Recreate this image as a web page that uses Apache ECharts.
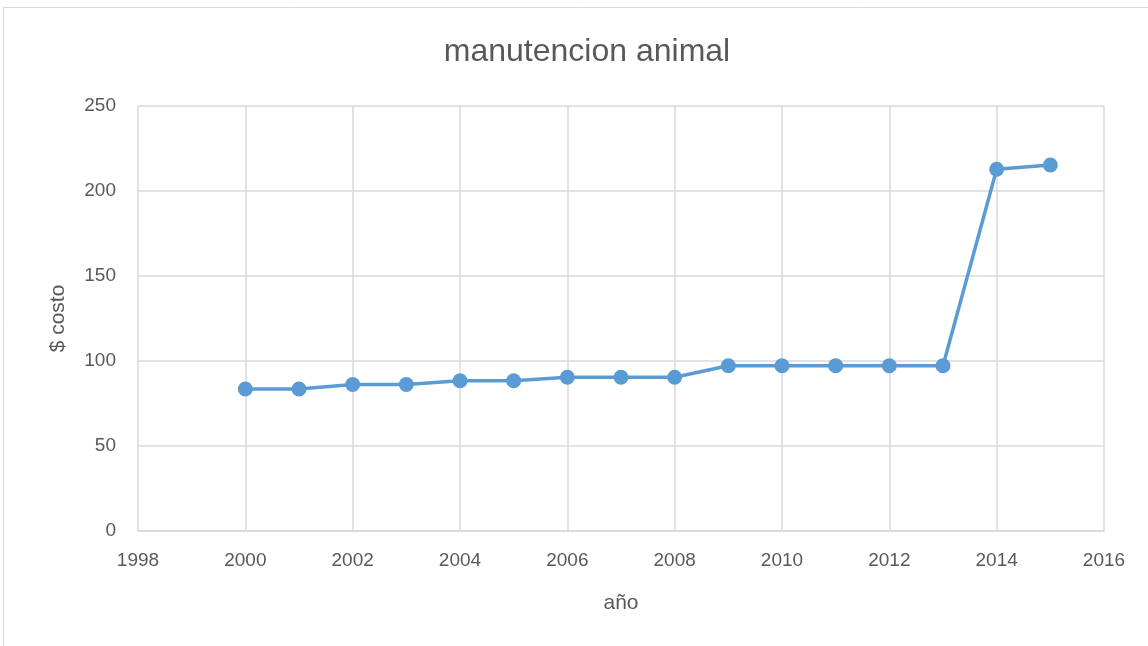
<!DOCTYPE html>
<html>
<head>
<meta charset="utf-8">
<script src="https://cdn.jsdelivr.net/npm/echarts@6/dist/echarts.min.js"></script>
<style>
    html, body { margin: 0; padding: 0; background: #fff; }
    #chart { width: 1148px; height: 646px; }
</style>
</head>
<body>
<div id="chart"></div>
<script>
// 数据
var years = [2000, 2001, 2002, 2003, 2004, 2005, 2006, 2007, 2008, 2009, 2010, 2011, 2012, 2013, 2014, 2015];
var costs = [83.5, 83.5, 86.2, 86.2, 88.4, 88.4, 90.4, 90.4, 90.4, 97.2, 97.2, 97.2, 97.2, 97.2, 212.8, 215.3];

var font = '"Liberation Sans", sans-serif';
var textColor = '#595959';
var gridColor = '#d9d9d9';

var chart = echarts.init(document.getElementById('chart'));

var points = [];
for (var i = 0; i < years.length; i++) {
    points.push([years[i], costs[i]]);
}

var option = {
    backgroundColor: '#fff',
    animation: false,
    graphic: [{
        type: 'rect',
        shape: {x: 3.5, y: 7.5, width: 1160, height: 660},
        style: {fill: 'none', stroke: '#d9d9d9', lineWidth: 1}
    }],
    title: {
        text: 'manutencion animal',
        left: 582,
        top: 31,
        textAlign: 'center',
        textStyle: {
            fontFamily: font,
            fontSize: 32,
            fontWeight: 'normal',
            color: textColor
        }
    },
    grid: {
        left: 138,
        right: 44,
        top: 106,
        bottom: 115
    },
    xAxis: {
        type: 'value',
        min: 1998,
        max: 2016,
        interval: 2,
        name: 'año',
        nameLocation: 'middle',
        nameGap: 62,
        nameTextStyle: {fontFamily: font, fontSize: 21, color: textColor},
        axisLine: {show: true, lineStyle: {color: gridColor, width: 1.5}},
        axisTick: {show: false},
        axisLabel: {
            fontFamily: font,
            fontSize: 19,
            color: textColor,
            margin: 20,
            formatter: function (v) { return String(v); }
        },
        splitLine: {show: true, lineStyle: {color: gridColor, width: 1.5}}
    },
    yAxis: {
        type: 'value',
        min: 0,
        max: 250,
        interval: 50,
        name: '$ costo',
        nameLocation: 'middle',
        nameGap: 69,
        nameRotate: 90,
        nameTextStyle: {fontFamily: font, fontSize: 21, color: textColor},
        axisLine: {show: false},
        axisTick: {show: false},
        axisLabel: {
            fontFamily: font,
            fontSize: 19,
            color: textColor,
            margin: 22
        },
        splitLine: {show: true, lineStyle: {color: gridColor, width: 1.5}}
    },
    series: [{
        name: 'costo',
        type: 'line',
        data: points,
        symbol: 'circle',
        symbolSize: 15,
        lineStyle: {color: '#5b9bd5', width: 3.5},
        itemStyle: {color: '#5b9bd5'}
    }]
};

chart.setOption(option);
</script>
</body>
</html>
